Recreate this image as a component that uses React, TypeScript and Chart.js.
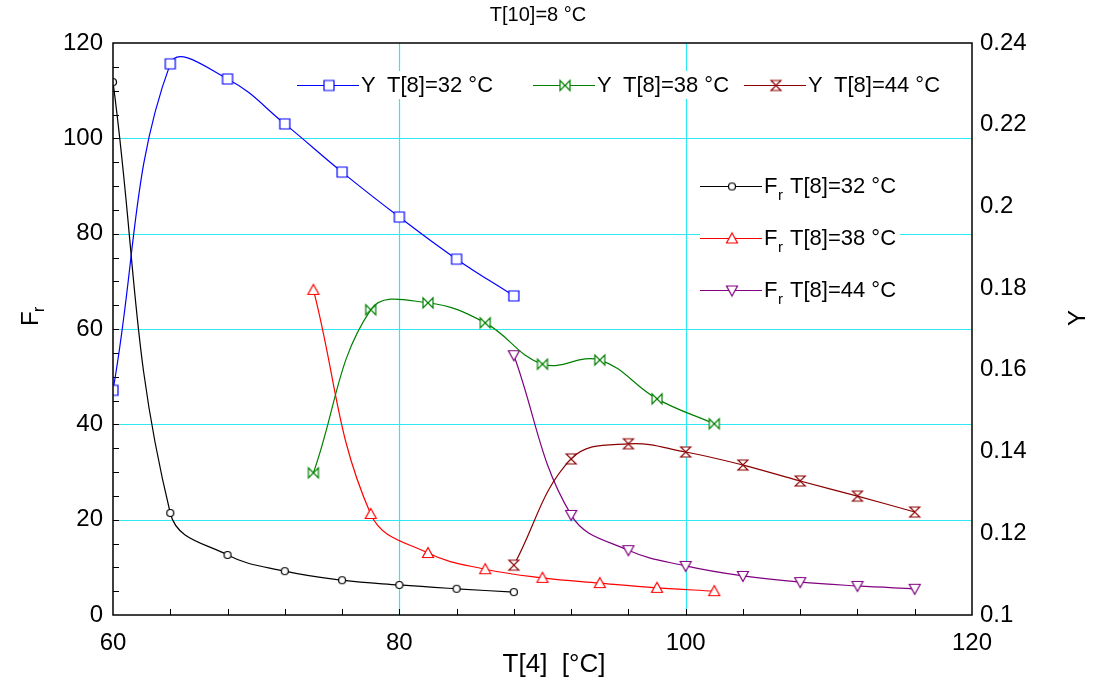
import React, { useEffect, useRef } from 'react';
import { Chart, registerables } from 'chart.js';

Chart.register(...registerables);

// ---- data ----
const T4_32 = [60, 64, 68, 72, 76, 80, 84, 88];
const T4_38 = [74, 78, 82, 86, 90, 94, 98, 102];
const T4_44 = [88, 92, 96, 100, 104, 108, 112, 116];

const Y_32 = [0.155, 0.2349, 0.2312, 0.2202, 0.2084, 0.1974, 0.1871, 0.1781];
const Y_38 = [0.1348, 0.1747, 0.1764, 0.1715, 0.1614, 0.1624, 0.1529, 0.1468];
const Y_44 = [0.1122, 0.1382, 0.1419, 0.1399, 0.1367, 0.1328, 0.1291, 0.1252];

const FR_32 = [111.8, 21.4, 12.6, 9.2, 7.3, 6.3, 5.5, 4.8];
const FR_38 = [68.2, 21.2, 13.0, 9.6, 7.8, 6.7, 5.7, 5.0];
const FR_44 = [54.5, 21.0, 13.6, 10.3, 8.2, 6.9, 6.1, 5.5];

const X_TICKS = [60, 80, 100, 120];
const FR_TICKS = [0, 20, 40, 60, 80, 100, 120];
const Y_TICKS = [0.1, 0.12, 0.14, 0.16, 0.18, 0.2, 0.22, 0.24];

const TITLE = 'T[10]=8 °C';
const X_TITLE = 'T[4]  [°C]';
const SERIES_TEXT = ['T[8]=32 °C', 'T[8]=38 °C', 'T[8]=44 °C'];

const FONT = '"Liberation Sans", Arial, sans-serif';
const CYAN = '#2ee8f2';

function makeMarker(kind: string, color: string): HTMLCanvasElement {
  const s = 16;
  const c = document.createElement('canvas');
  c.width = s;
  c.height = s;
  const g = c.getContext('2d')!;
  g.translate(s / 2, s / 2);
  g.lineWidth = 1.2;
  g.strokeStyle = color;
  g.fillStyle = '#ffffff';
  g.beginPath();
  switch (kind) {
    case 'square':
      g.rect(-5, -5, 10, 10);
      break;
    case 'circle':
      g.arc(0, 0, 3.5, 0, Math.PI * 2);
      break;
    case 'triUp':
      g.moveTo(0, -5.5);
      g.lineTo(5.5, 4.5);
      g.lineTo(-5.5, 4.5);
      g.closePath();
      break;
    case 'triDown':
      g.moveTo(0, 5.5);
      g.lineTo(5.5, -4.5);
      g.lineTo(-5.5, -4.5);
      g.closePath();
      break;
    case 'bowtie':
      g.moveTo(-5, -5);
      g.lineTo(0, 0);
      g.lineTo(-5, 5);
      g.closePath();
      g.moveTo(5, -5);
      g.lineTo(0, 0);
      g.lineTo(5, 5);
      g.closePath();
      break;
    case 'hourglass':
      g.moveTo(-5, -5);
      g.lineTo(5, -5);
      g.lineTo(0, 0);
      g.closePath();
      g.moveTo(-5, 5);
      g.lineTo(5, 5);
      g.lineTo(0, 0);
      g.closePath();
      break;
  }
  g.fill();
  g.stroke();
  return c;
}

function pts(xs: number[], ys: number[]) {
  return xs.map((x, i) => ({ x, y: ys[i] }));
}

export default function App() {
  const ref = useRef<HTMLCanvasElement | null>(null);

  useEffect(() => {
    document.body.style.margin = '0';
    const canvas = ref.current;
    if (!canvas) return;

    const series = [
      { key: 'Y', xs: T4_32, ys: Y_32, axis: 'y1', color: '#0000ff', marker: 'square', txt: SERIES_TEXT[0] },
      { key: 'Y', xs: T4_38, ys: Y_38, axis: 'y1', color: '#008000', marker: 'bowtie', txt: SERIES_TEXT[1] },
      { key: 'Y', xs: T4_44, ys: Y_44, axis: 'y1', color: '#8b0000', marker: 'hourglass', txt: SERIES_TEXT[2] },
      { key: 'F', xs: T4_32, ys: FR_32, axis: 'y', color: '#000000', marker: 'circle', txt: SERIES_TEXT[0] },
      { key: 'F', xs: T4_38, ys: FR_38, axis: 'y', color: '#ff0000', marker: 'triUp', txt: SERIES_TEXT[1] },
      { key: 'F', xs: T4_44, ys: FR_44, axis: 'y', color: '#800080', marker: 'triDown', txt: SERIES_TEXT[2] },
    ].map((s) => ({ ...s, img: makeMarker(s.marker, s.color) }));

    const legendSlots = [
      { x: 297, y: 85 },
      { x: 533, y: 85 },
      { x: 744, y: 85 },
      { x: 700, y: 186 },
      { x: 700, y: 238 },
      { x: 700, y: 290 },
    ];

    const decor = {
      id: 'decor',
      beforeDatasetsDraw(chart: any) {
        const { ctx, chartArea: a, scales } = chart;
        ctx.save();
        // grid lines (interior ticks only)
        ctx.strokeStyle = CYAN;
        ctx.lineWidth = 1.2;
        ctx.beginPath();
        FR_TICKS.slice(1, -1).forEach((v) => {
          const p = Math.round(scales.y.getPixelForValue(v)) + 0.5;
          ctx.moveTo(a.left, p);
          ctx.lineTo(a.right, p);
        });
        X_TICKS.slice(1, -1).forEach((v) => {
          const p = Math.round(scales.x.getPixelForValue(v)) + 0.5;
          ctx.moveTo(p, a.top);
          ctx.lineTo(p, a.bottom);
        });
        ctx.stroke();

        // inward minor ticks
        ctx.strokeStyle = '#000';
        ctx.lineWidth = 1;
        ctx.beginPath();
        for (let v = 5; v < 120; v += 5) {
          const p = Math.round(scales.y.getPixelForValue(v)) + 0.5;
          ctx.moveTo(a.left, p);
          ctx.lineTo(a.left + 6, p);
        }
        for (let v = 64; v < 120; v += 4) {
          const p = Math.round(scales.x.getPixelForValue(v)) + 0.5;
          ctx.moveTo(p, a.bottom);
          ctx.lineTo(p, a.bottom - 6);
        }
        ctx.stroke();
        ctx.restore();
      },
      afterDatasetsDraw(chart: any) {
        const { ctx, chartArea: a } = chart;
        ctx.save();
        // frame
        ctx.strokeStyle = '#000';
        ctx.lineWidth = 1.5;
        ctx.strokeRect(a.left, a.top, a.right - a.left, a.bottom - a.top);

        // legend
        series.forEach((s, i) => {
          const slot = legendSlots[i];
          const lx = slot.x;
          const ly = slot.y;
          ctx.fillStyle = '#ffffff';
          ctx.fillRect(lx, ly - 14, 200, 28);
          ctx.strokeStyle = s.color;
          ctx.lineWidth = 1.2;
          ctx.beginPath();
          ctx.moveTo(lx, ly + 0.5);
          ctx.lineTo(lx + 62, ly + 0.5);
          ctx.stroke();
          ctx.drawImage(s.img, lx + 32 - 8, ly - 8 + 0.5);
          ctx.fillStyle = '#000';
          ctx.textBaseline = 'middle';
          ctx.textAlign = 'left';
          ctx.font = `22px ${FONT}`;
          if (s.key === 'Y') {
            ctx.fillText('Y', lx + 64, ly + 1);
            ctx.fillText(s.txt, lx + 90, ly + 1);
          } else {
            ctx.fillText('F', lx + 64, ly + 1);
            ctx.font = `15px ${FONT}`;
            ctx.fillText('r', lx + 78, ly + 10);
            ctx.font = `22px ${FONT}`;
            ctx.fillText(s.txt, lx + 90, ly + 1);
          }
        });

        // titles
        ctx.fillStyle = '#000';
        ctx.textAlign = 'center';
        ctx.textBaseline = 'middle';
        ctx.font = `20px ${FONT}`;
        ctx.fillText(TITLE, 538, 15);
        ctx.font = `26px ${FONT}`;
        ctx.fillText(X_TITLE, 554, 665);

        ctx.save();
        ctx.translate(31, 316);
        ctx.rotate(-Math.PI / 2);
        ctx.textAlign = 'left';
        ctx.font = `24px ${FONT}`;
        ctx.fillText('F', -10, 0);
        ctx.font = `16px ${FONT}`;
        ctx.fillText('r', 4, 9);
        ctx.restore();

        ctx.save();
        ctx.translate(1078, 318);
        ctx.rotate(-Math.PI / 2);
        ctx.font = `24px ${FONT}`;
        ctx.fillText('Y', 0, 0);
        ctx.restore();

        ctx.restore();
      },
    };

    const chart = new Chart(canvas, {
      type: 'line',
      data: {
        datasets: series.map((s) => ({
          label: s.key + ' ' + s.txt,
          data: pts(s.xs, s.ys),
          yAxisID: s.axis,
          borderColor: s.color,
          backgroundColor: '#ffffff',
          borderWidth: 1.2,
          pointStyle: s.img as any,
          pointRadius: 5,
          pointHoverRadius: 5,
          tension: 0.4,
          fill: false,
          clip: 0,
        })),
      },
      plugins: [decor],
      options: {
        responsive: false,
        animation: false,
        events: [],
        layout: { padding: { top: 43, left: 0, right: 0, bottom: 0 } },
        plugins: {
          legend: { display: false },
          tooltip: { enabled: false },
          title: { display: false },
        },
        scales: {
          x: {
            type: 'linear',
            min: 60,
            max: 120,
            afterBuildTicks: (sc: any) => {
              sc.ticks = X_TICKS.map((v) => ({ value: v }));
            },
            ticks: {
              font: { family: FONT, size: 24 },
              color: '#000',
              padding: 14,
              maxRotation: 0,
              autoSkip: false,
            },
            grid: { display: false, drawTicks: false },
            border: { display: false },
            afterFit: (sc: any) => {
              sc.height = 75;
            },
          },
          y: {
            type: 'linear',
            position: 'left',
            min: 0,
            max: 120,
            afterBuildTicks: (sc: any) => {
              sc.ticks = FR_TICKS.map((v) => ({ value: v }));
            },
            ticks: {
              font: { family: FONT, size: 24 },
              color: '#000',
              padding: 10,
              autoSkip: false,
            },
            grid: { display: false, drawTicks: false },
            border: { display: false },
            afterFit: (sc: any) => {
              sc.width = 113;
            },
          },
          y1: {
            type: 'linear',
            position: 'right',
            min: 0.1,
            max: 0.24,
            afterBuildTicks: (sc: any) => {
              sc.ticks = Y_TICKS.map((v) => ({ value: v }));
            },
            ticks: {
              font: { family: FONT, size: 24 },
              color: '#000',
              padding: 8,
              autoSkip: false,
              callback: (v: any) => String(parseFloat(Number(v).toFixed(2))),
            },
            grid: { display: false, drawOnChartArea: false, drawTicks: false },
            border: { display: false },
            afterFit: (sc: any) => {
              sc.width = 132;
            },
          },
        },
      },
    } as any);

    return () => {
      chart.destroy();
    };
  }, []);

  return (
    <div style={{ width: 1104, height: 690, background: '#ffffff' }}>
      <canvas ref={ref} width={1104} height={690} style={{ display: 'block' }} />
    </div>
  );
}
